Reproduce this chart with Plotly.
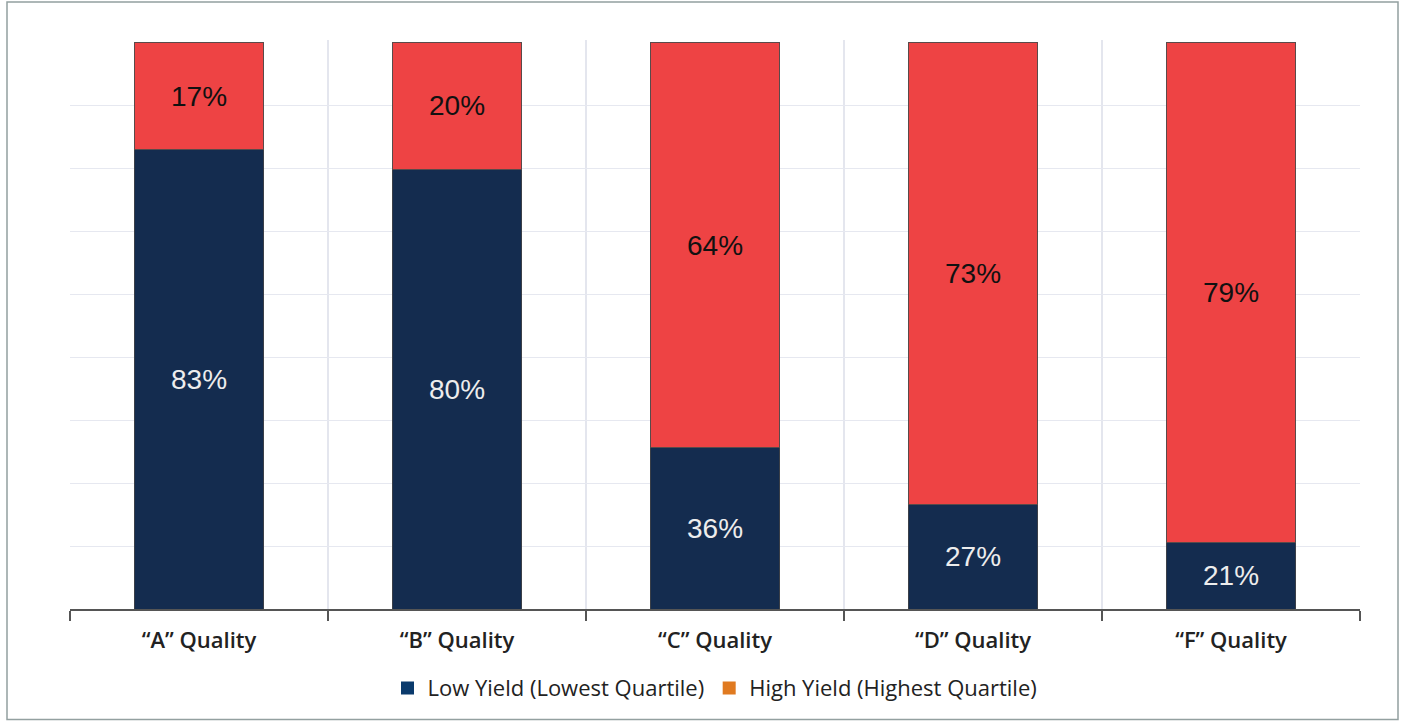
import plotly.graph_objects as go

categories = ["“A” Quality", "“B” Quality", "“C” Quality", "“D” Quality", "“F” Quality"]
# segment heights as drawn in the picture (percent of the full bar)
low_yield = [81.1, 77.7, 28.5, 18.4, 11.8]
high_yield = [18.9, 22.3, 71.5, 81.6, 88.2]
# printed data labels
low_labels = ["83%", "80%", "36%", "27%", "21%"]
high_labels = ["17%", "20%", "64%", "73%", "79%"]
series_names = ["Low Yield (Lowest Quartile)", "High Yield (Highest Quartile)"]
grid_values = [100 / 9 * k for k in range(1, 9)]

NAVY = "#142C4F"
RED = "#EE4344"
LEG_NAVY = "#0A3A6C"
LEG_ORANGE = "#E07A20"
TXT_FONT = "Open Sans, Noto Sans, Lato"

fig = go.Figure()
fig.add_trace(go.Bar(
    x=categories, y=low_yield, name=series_names[0], showlegend=False,
    marker=dict(color=NAVY, line=dict(color="#3a3f48", width=1)),
    text=low_labels, textposition="inside",
    insidetextanchor="middle", textangle=0, constraintext="none",
    textfont=dict(family="Liberation Sans, Arial", size=28, color="#EDEDED"),
    width=0.5, hoverinfo="skip",
))
fig.add_trace(go.Bar(
    x=categories, y=high_yield, name=series_names[1], showlegend=False,
    marker=dict(color=RED, line=dict(color="#5a4a4a", width=1)),
    text=high_labels, textposition="inside",
    insidetextanchor="middle", textangle=0, constraintext="none",
    textfont=dict(family="Liberation Sans, Arial", size=28, color="#111111"),
    width=0.5, hoverinfo="skip",
))
# legend entries
for name, col in zip(series_names, [LEG_NAVY, LEG_ORANGE]):
    fig.add_trace(go.Scatter(
        x=[None], y=[None], mode="markers", name=name,
        marker=dict(symbol="square", size=13, color=col),
    ))

fig.update_layout(
    width=1405, height=721,
    barmode="stack",
    paper_bgcolor="white", plot_bgcolor="white",
    margin=dict(l=70, r=45, t=40, b=112),
    showlegend=True,
    legend=dict(orientation="h", x=0.5, xanchor="center", y=-0.139, yanchor="middle",
                traceorder="normal",
                font=dict(family=TXT_FONT, size=22, color="#222222"),
                itemclick=False, itemdoubleclick=False),
    shapes=[dict(type="rect", xref="paper", yref="paper",
                 x0=(7 - 70) / 1290, x1=(1398 - 70) / 1290,
                 y0=(609 - 719.5) / 569, y1=(609 - 2) / 569,
                 line=dict(color="#93A0A0", width=1.5), layer="below")],
)
fig.update_xaxes(
    type="category", range=[-0.5, 4.5], tickson="boundaries",
    showline=True, linecolor="#555555", linewidth=1.5,
    ticks="outside", ticklen=10, tickcolor="#555555", tickwidth=1.5,
    ticklabelstandoff=11,
    showgrid=True, gridcolor="#E4E6EE", gridwidth=1.5,
    tickfont=dict(family=TXT_FONT, size=22, color="#222222", weight=600),
)
fig.update_yaxes(
    range=[0, 100.5], tickvals=grid_values, showticklabels=False,
    showgrid=True, gridcolor="#E6E8F0", gridwidth=1, zeroline=False,
)
fig.write_html("out.html")
